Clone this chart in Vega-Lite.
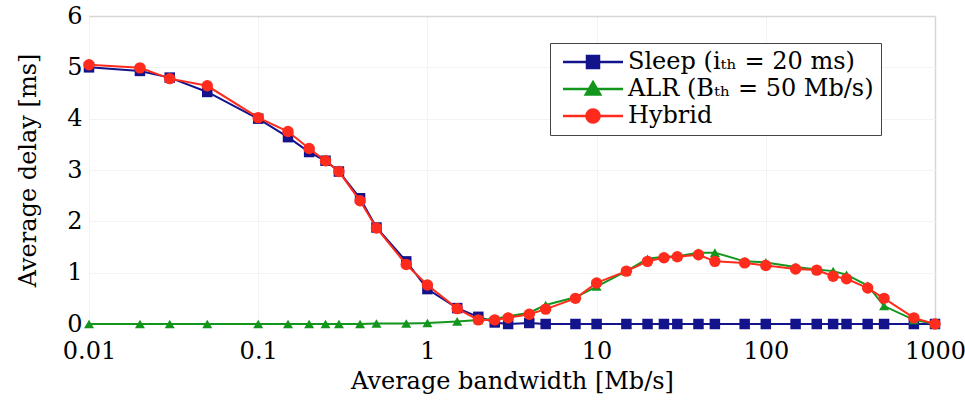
{
  "$schema": "https://vega.github.io/schema/vega-lite/v6.json",
  "width": 846,
  "height": 308,
  "autosize": {"type": "none"},
  "padding": {"left": 89, "top": 16, "right": 30, "bottom": 76},
  "background": "white",
  "config": {
    "view": {"stroke": null},
    "font": "DejaVu Serif",
    "axis": {
      "labelFont": "DejaVu Serif",
      "titleFont": "DejaVu Serif",
      "labelColor": "black",
      "titleColor": "black",
      "labelFontSize": 24,
      "titleFontSize": 24,
      "titleFontWeight": "normal",
      "domain": false,
      "ticks": false
    }
  },
  "data": {
    "values": [
      {"bw": 0.01, "s": "Sleep", "d": 5.0}, {"bw": 0.02, "s": "Sleep", "d": 4.93}, {"bw": 0.03, "s": "Sleep", "d": 4.8}, {"bw": 0.05, "s": "Sleep", "d": 4.52}, {"bw": 0.1, "s": "Sleep", "d": 4.0}, {"bw": 0.15, "s": "Sleep", "d": 3.64}, {"bw": 0.2, "s": "Sleep", "d": 3.35}, {"bw": 0.25, "s": "Sleep", "d": 3.18}, {"bw": 0.3, "s": "Sleep", "d": 2.97}, {"bw": 0.4, "s": "Sleep", "d": 2.45}, {"bw": 0.5, "s": "Sleep", "d": 1.88}, {"bw": 0.75, "s": "Sleep", "d": 1.22}, {"bw": 1, "s": "Sleep", "d": 0.68}, {"bw": 1.5, "s": "Sleep", "d": 0.31}, {"bw": 2, "s": "Sleep", "d": 0.14}, {"bw": 2.5, "s": "Sleep", "d": 0.03}, {"bw": 3, "s": "Sleep", "d": 0.0}, {"bw": 4, "s": "Sleep", "d": 0.02}, {"bw": 5, "s": "Sleep", "d": 0.0}, {"bw": 7.5, "s": "Sleep", "d": 0.0}, {"bw": 10, "s": "Sleep", "d": 0.0}, {"bw": 15, "s": "Sleep", "d": 0.0}, {"bw": 20, "s": "Sleep", "d": 0.0}, {"bw": 25, "s": "Sleep", "d": 0.0}, {"bw": 30, "s": "Sleep", "d": 0.0}, {"bw": 40, "s": "Sleep", "d": 0.0}, {"bw": 50, "s": "Sleep", "d": 0.0}, {"bw": 75, "s": "Sleep", "d": 0.0}, {"bw": 100, "s": "Sleep", "d": 0.0}, {"bw": 150, "s": "Sleep", "d": 0.0}, {"bw": 200, "s": "Sleep", "d": 0.0}, {"bw": 250, "s": "Sleep", "d": 0.0}, {"bw": 300, "s": "Sleep", "d": 0.0}, {"bw": 400, "s": "Sleep", "d": 0.0}, {"bw": 500, "s": "Sleep", "d": 0.0}, {"bw": 750, "s": "Sleep", "d": 0.0}, {"bw": 1000, "s": "Sleep", "d": 0.0},
      {"bw": 0.01, "s": "ALR", "d": 0.0}, {"bw": 0.02, "s": "ALR", "d": 0.0}, {"bw": 0.03, "s": "ALR", "d": 0.0}, {"bw": 0.05, "s": "ALR", "d": 0.0}, {"bw": 0.1, "s": "ALR", "d": 0.0}, {"bw": 0.15, "s": "ALR", "d": 0.0}, {"bw": 0.2, "s": "ALR", "d": 0.0}, {"bw": 0.25, "s": "ALR", "d": 0.0}, {"bw": 0.3, "s": "ALR", "d": 0.0}, {"bw": 0.4, "s": "ALR", "d": 0.0}, {"bw": 0.5, "s": "ALR", "d": 0.01}, {"bw": 0.75, "s": "ALR", "d": 0.01}, {"bw": 1, "s": "ALR", "d": 0.02}, {"bw": 1.5, "s": "ALR", "d": 0.05}, {"bw": 2, "s": "ALR", "d": 0.08}, {"bw": 2.5, "s": "ALR", "d": 0.1}, {"bw": 3, "s": "ALR", "d": 0.15}, {"bw": 4, "s": "ALR", "d": 0.22}, {"bw": 5, "s": "ALR", "d": 0.37}, {"bw": 7.5, "s": "ALR", "d": 0.52}, {"bw": 10, "s": "ALR", "d": 0.73}, {"bw": 15, "s": "ALR", "d": 1.03}, {"bw": 20, "s": "ALR", "d": 1.27}, {"bw": 25, "s": "ALR", "d": 1.31}, {"bw": 30, "s": "ALR", "d": 1.32}, {"bw": 40, "s": "ALR", "d": 1.39}, {"bw": 50, "s": "ALR", "d": 1.39}, {"bw": 75, "s": "ALR", "d": 1.22}, {"bw": 100, "s": "ALR", "d": 1.2}, {"bw": 150, "s": "ALR", "d": 1.11}, {"bw": 200, "s": "ALR", "d": 1.06}, {"bw": 250, "s": "ALR", "d": 1.03}, {"bw": 300, "s": "ALR", "d": 0.96}, {"bw": 400, "s": "ALR", "d": 0.75}, {"bw": 500, "s": "ALR", "d": 0.35}, {"bw": 750, "s": "ALR", "d": 0.08}, {"bw": 1000, "s": "ALR", "d": 0.0},
      {"bw": 0.01, "s": "Hybrid", "d": 5.05}, {"bw": 0.02, "s": "Hybrid", "d": 4.99}, {"bw": 0.03, "s": "Hybrid", "d": 4.78}, {"bw": 0.05, "s": "Hybrid", "d": 4.64}, {"bw": 0.1, "s": "Hybrid", "d": 4.02}, {"bw": 0.15, "s": "Hybrid", "d": 3.75}, {"bw": 0.2, "s": "Hybrid", "d": 3.42}, {"bw": 0.25, "s": "Hybrid", "d": 3.18}, {"bw": 0.3, "s": "Hybrid", "d": 2.97}, {"bw": 0.4, "s": "Hybrid", "d": 2.4}, {"bw": 0.5, "s": "Hybrid", "d": 1.87}, {"bw": 0.75, "s": "Hybrid", "d": 1.16}, {"bw": 1, "s": "Hybrid", "d": 0.76}, {"bw": 1.5, "s": "Hybrid", "d": 0.3}, {"bw": 2, "s": "Hybrid", "d": 0.08}, {"bw": 2.5, "s": "Hybrid", "d": 0.08}, {"bw": 3, "s": "Hybrid", "d": 0.12}, {"bw": 4, "s": "Hybrid", "d": 0.19}, {"bw": 5, "s": "Hybrid", "d": 0.29}, {"bw": 7.5, "s": "Hybrid", "d": 0.5}, {"bw": 10, "s": "Hybrid", "d": 0.8}, {"bw": 15, "s": "Hybrid", "d": 1.03}, {"bw": 20, "s": "Hybrid", "d": 1.22}, {"bw": 25, "s": "Hybrid", "d": 1.29}, {"bw": 30, "s": "Hybrid", "d": 1.31}, {"bw": 40, "s": "Hybrid", "d": 1.35}, {"bw": 50, "s": "Hybrid", "d": 1.22}, {"bw": 75, "s": "Hybrid", "d": 1.19}, {"bw": 100, "s": "Hybrid", "d": 1.14}, {"bw": 150, "s": "Hybrid", "d": 1.07}, {"bw": 200, "s": "Hybrid", "d": 1.05}, {"bw": 250, "s": "Hybrid", "d": 0.93}, {"bw": 300, "s": "Hybrid", "d": 0.88}, {"bw": 400, "s": "Hybrid", "d": 0.7}, {"bw": 500, "s": "Hybrid", "d": 0.5}, {"bw": 750, "s": "Hybrid", "d": 0.12}, {"bw": 1000, "s": "Hybrid", "d": 0.0}
    ]
  },
  "encoding": {
    "x": {
      "field": "bw", "type": "quantitative",
      "scale": {"type": "log", "domain": [0.01, 1000], "nice": false},
      "axis": {
        "title": "Average bandwidth [Mb/s]",
        "values": [0.01, 0.1, 1, 10, 100, 1000],
        "labelExpr": "datum.value + ''",
        "labelFlush": false,
        "labelOverlap": false,
        "labelPadding": 15,
        "titlePadding": 6,
        "gridColor": {"condition": {"test": "datum.value === 1000", "value": "#d6d6d6"}, "value": "#f3f3f3"},
        "gridWidth": {"condition": {"test": "datum.value === 1000", "value": 1.5}, "value": 1}
      }
    },
    "y": {
      "field": "d", "type": "quantitative",
      "scale": {"domain": [0, 6], "nice": false},
      "axis": {
        "title": "Average delay [ms]",
        "values": [0, 1, 2, 3, 4, 5, 6],
        "labelPadding": 7,
        "titlePadding": 26,
        "gridColor": {"condition": {"test": "datum.value === 6", "value": "#d6d6d6"}, "value": "#f3f3f3"},
        "gridWidth": {"condition": {"test": "datum.value === 6", "value": 1.5}, "value": 1}
      }
    },
    "color": {
      "field": "s", "type": "nominal",
      "scale": {"domain": ["Sleep", "ALR", "Hybrid"], "range": ["#13138c", "#12961c", "#ff2b1c"]},
      "legend": {
        "title": null,
        "orient": "none",
        "legendX": 461,
        "legendY": 27,
        "padding": 7,
        "strokeColor": "#444444",
        "fillColor": "white",
        "labelFont": "DejaVu Serif",
        "labelFontSize": 24,
        "labelColor": "black",
        "labelLimit": 500,
        "labelOffset": 47,
        "rowPadding": 3,
        "symbolSize": 144,
        "labelExpr": "datum.label === 'Sleep' ? 'Sleep (iₜₕ = 20 ms)' : datum.label === 'ALR' ? 'ALR (Bₜₕ = 50 Mb/s)' : 'Hybrid'",
        "encode": {
          "symbols": {
            "update": {
              "shape": {"signal": "datum.value === 'Sleep' ? 'M-1,0L9,0M3,-1L5,-1L5,1L3,1Z' : datum.value === 'ALR' ? 'M-1,0L9,0M4,-1.15L5.2,0.9L2.8,0.9Z' : 'M-1,0L9,0M5.1,0A1.1,1.1 0 1,1 2.9,0A1.1,1.1 0 1,1 5.1,0Z'"},
              "size": {"value": 144},
              "fill": {"scale": "color", "field": "value"},
              "stroke": {"scale": "color", "field": "value"},
              "strokeWidth": {"value": 2.5},
              "opacity": {"value": 1},
              "fillOpacity": {"value": 1}
            }
          }
        }
      }
    }
  },
  "layer": [
    {"transform": [{"filter": "datum.s === 'Sleep'"}], "mark": {"type": "line", "strokeWidth": 2}},
    {"transform": [{"filter": "datum.s === 'Sleep'"}], "mark": {"type": "point", "shape": "square", "filled": true, "opacity": 1, "size": 110}},
    {"transform": [{"filter": "datum.s === 'ALR'"}], "mark": {"type": "line", "strokeWidth": 2}},
    {"transform": [{"filter": "datum.s === 'ALR'"}], "mark": {"type": "point", "shape": "triangle-up", "filled": true, "opacity": 1, "size": 100}},
    {"transform": [{"filter": "datum.s === 'Hybrid'"}], "mark": {"type": "line", "strokeWidth": 2}},
    {"transform": [{"filter": "datum.s === 'Hybrid'"}], "mark": {"type": "point", "shape": "circle", "filled": true, "opacity": 1, "size": 130}}
  ]
}
